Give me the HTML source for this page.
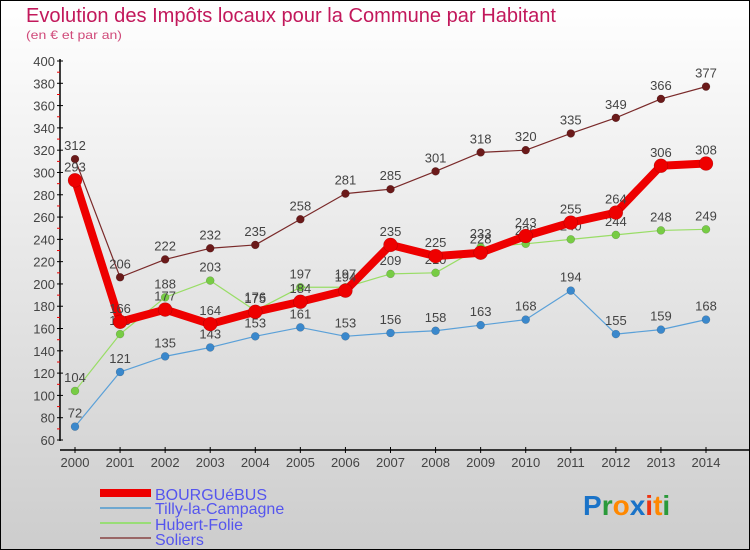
<!DOCTYPE html>
<html><head><meta charset="utf-8"><style>
html,body{margin:0;padding:0;}
svg{display:block;font-family:"Liberation Sans",sans-serif;}
</style></head><body>
<svg id="chart" width="750" height="550" xmlns="http://www.w3.org/2000/svg">
<defs><linearGradient id="bg" x1="0" y1="0" x2="0" y2="1"><stop offset="0" stop-color="#ffffff"/><stop offset="1" stop-color="#cdcdcd"/></linearGradient></defs>
<rect x="0.5" y="0.5" width="749" height="549" fill="url(#bg)" stroke="#000" stroke-width="1"/>
<text x="26" y="22" font-size="20" fill="#c2185b" textLength="530" lengthAdjust="spacingAndGlyphs">Evolution des Impôts locaux pour la Commune par Habitant</text>
<text x="26" y="39" font-size="12" fill="#d04a7a" textLength="96" lengthAdjust="spacingAndGlyphs">(en € et par an)</text>
<g id="axes"></g>
<g id="series"></g>
<g id="legend">
 <line x1="100" y1="493" x2="151" y2="493" stroke="#ee0000" stroke-width="8"/>
 <text x="155" y="500" font-size="16" fill="#5555ee">BOURGUéBUS</text>
 <line x1="100" y1="508" x2="151" y2="508" stroke="#6fa8d0" stroke-width="2"/>
 <text x="155" y="514" font-size="16" fill="#5555ee">Tilly-la-Campagne</text>
 <line x1="100" y1="523" x2="151" y2="523" stroke="#99dd77" stroke-width="2"/>
 <text x="155" y="530" font-size="16" fill="#5555ee">Hubert-Folie</text>
 <line x1="100" y1="538" x2="151" y2="538" stroke="#996666" stroke-width="2"/>
 <text x="155" y="545" font-size="16" fill="#5555ee">Soliers</text>
</g>
<g font-size="28" font-weight="bold">
 <text x="583" y="515"><tspan fill="#1a73c8">P</tspan><tspan fill="#2a9a3a">r</tspan><tspan fill="#ff8800">o</tspan><tspan fill="#1a73c8">x</tspan><tspan fill="#ee3311">i</tspan><tspan fill="#ff8800">t</tspan><tspan fill="#2a9a3a">i</tspan></text>
</g>
</svg>
<script>
const years = [2000,2001,2002,2003,2004,2005,2006,2007,2008,2009,2010,2011,2012,2013,2014];
const bourguebus = [293,166,177,164,175,184,194,235,225,228,243,255,264,306,308];
const tilly = [72,121,135,143,153,161,153,156,158,163,168,194,155,159,168];
const hubert = [104,155,188,203,176,197,197,209,210,233,236,240,244,248,249];
const soliers = [312,206,222,232,235,258,281,285,301,318,320,335,349,366,377];
const yTicks = [60,80,100,120,140,160,180,200,220,240,260,280,300,320,340,360,380,400];

const NS = "http://www.w3.org/2000/svg";
const xS = i => 75 + i * (706 - 75) / 14;
const yS = v => 440 - (v - 60) * (440 - 61) / 340;
function mk(tag, attrs, parent){ const e=document.createElementNS(NS,tag); for(const k in attrs) e.setAttribute(k,attrs[k]); parent.appendChild(e); return e; }

const axes = document.getElementById('axes');
const ya = mk('line',{x1:60,y1:59,x2:60,y2:441,stroke:'#000','stroke-width':1.5},axes);


yTicks.forEach(t => {
  const y = yS(t);
  mk('line',{x1:57,y1:y,x2:63,y2:y,stroke:'#000'},axes);
  if (t < 400) mk('line',{x1:57,y1:y-11.1,x2:60,y2:y-11.1,stroke:'#ee0000'},axes);
  const tx = mk('text',{x:55,y:y+5,'font-size':13,fill:'#444','text-anchor':'end'},axes);
  
  
  tx.textContent = t;
});
const xa = mk('line',{x1:60,y1:450,x2:750,y2:450,stroke:'#000','stroke-width':1.5},axes);


years.forEach((yr,i) => {
  const x = xS(i);
  mk('line',{x1:x,y1:447,x2:x,y2:453,stroke:'#000'},axes);
  const tx = mk('text',{x:x,y:467,'font-size':13,fill:'#444','text-anchor':'middle'},axes);
  
  
  tx.textContent = yr;
});

const sg = document.getElementById('series');
function drawSeries(name, vals, color, lw, r, dot){
  const g = mk('g',{},sg);
  
  
  const pts = vals.map((v,i)=>xS(i)+','+yS(v)).join(' ');
  const pl = mk('polyline',{points:pts,fill:'none',stroke:color,'stroke-width':lw,'stroke-linejoin':'round'},g);
  
  
  vals.forEach((v,i)=>{
    const c = mk('circle',{cx:xS(i),cy:yS(v),r:r,fill:dot,stroke:'rgba(0,0,0,0.25)','stroke-width':0.5},g);
    
    
    const t = mk('text',{x:xS(i),y:yS(v)-9,'font-size':13,fill:'#444','text-anchor':'middle'},g);
    
    
    t.textContent = v;
  });
}
drawSeries('soliers', soliers, '#7a2a2a', 1.2, 4, '#6b1a1a');
drawSeries('tilly', tilly, '#5aa0d8', 1.2, 4, '#3a88cc');
drawSeries('hubert', hubert, '#99dd66', 1.2, 4, '#77cc44');
drawSeries('bourguebus', bourguebus, '#ee0000', 8, 7, '#ee0000');
</script>
</body></html>
